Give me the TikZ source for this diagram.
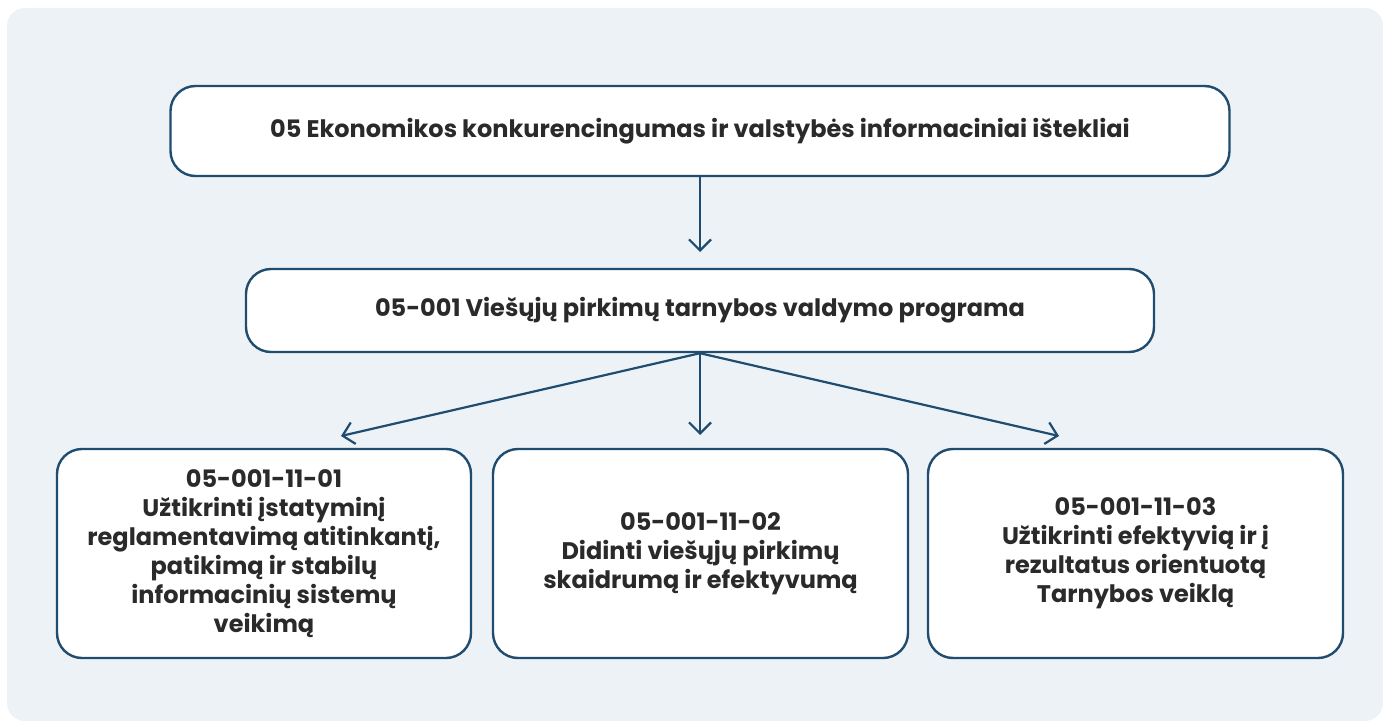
\documentclass[tikz,border=0pt]{standalone}
\usepackage{fontspec}
\setmainfont{Poppins}
\usetikzlibrary{arrows.meta}
\definecolor{bgc}{HTML}{EDF2F7}
\definecolor{lnc}{HTML}{1F4C6F}
\definecolor{txc}{HTML}{2A2A2A}
\begin{document}
\begin{tikzpicture}[x=1pt,y=-1pt,
  boxst/.style={draw=lnc, line width=2.4pt, fill=white, rounded corners=25pt,
    align=center, text=txc, font=\fontsize{24}{29}\selectfont\bfseries, inner sep=0pt},
  conn/.style={draw=lnc, line width=2.2pt, -{Straight Barb[length=11pt,width=22pt]}}]
\useasboundingbox (0,0) rectangle (1383,722);
\fill[bgc, rounded corners=18pt] (7,8) rectangle (1383,721);
\node[boxst, minimum width=1059pt, minimum height=90pt] (b1) at (700,131)
  {05 Ekonomikos konkurencingumas ir valstybės informaciniai ištekliai};
\node[boxst, minimum width=908pt, minimum height=83pt] (b2) at (700,310.5)
  {05-001 Viešųjų pirkimų tarnybos valdymo programa};
\node[boxst, minimum width=414pt, minimum height=209pt] (b3) at (264,553.5)
  {05-001-11-01\\Užtikrinti įstatyminį\\reglamentavimą atitinkantį,\\patikimą ir stabilų\\informacinių sistemų\\veikimą};
\node[boxst, minimum width=415pt, minimum height=209pt] (b4) at (700.5,553.5)
  {05-001-11-02\\Didinti viešųjų pirkimų\\skaidrumą ir efektyvumą};
\node[boxst, minimum width=415pt, minimum height=209pt] (b5) at (1135.5,553.5)
  {05-001-11-03\\Užtikrinti efektyvią ir į\\rezultatus orientuotą\\Tarnybos veiklą};
\coordinate (t2) at (700,252);
\coordinate (t3) at (341,436);
\coordinate (t4) at (700,435);
\coordinate (t5) at (1059,436);
\draw[conn] (b1.south) -- (t2);
\draw[conn] (b2.south) -- (t3);
\draw[conn] (b2.south) -- (t4);
\draw[conn] (b2.south) -- (t5);
\end{tikzpicture}
\end{document}
